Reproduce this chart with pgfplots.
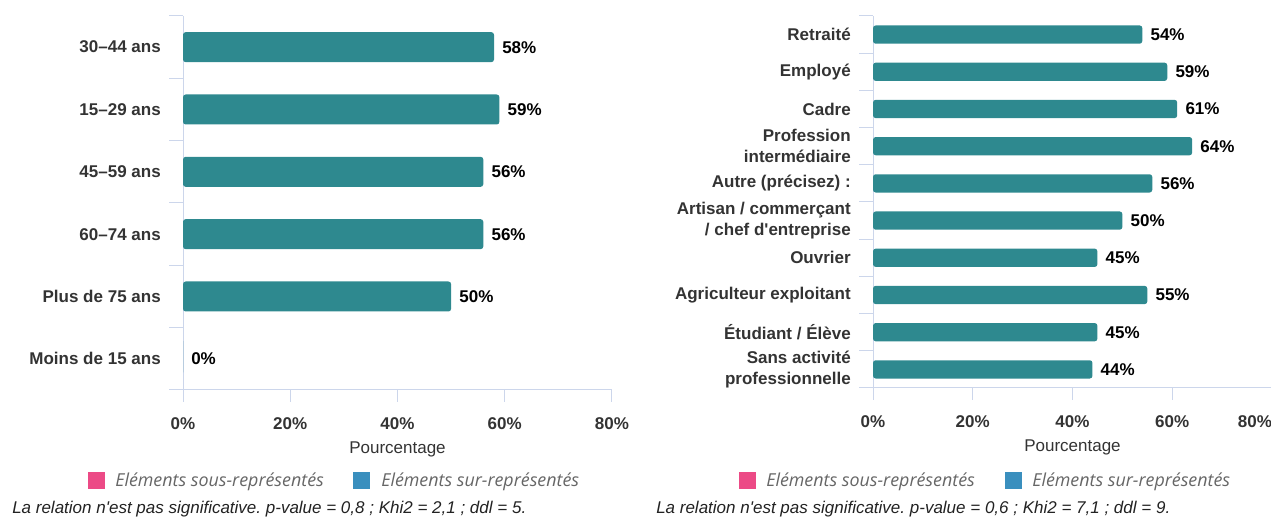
\documentclass[border=0pt]{standalone}
\usepackage{pgfplots}
\pgfplotsset{compat=1.18}
\usepackage{fontspec}
\setmainfont{Liberation Sans}[Ligatures=TeXOff]
\newfontfamily\osans{Open Sans}
\frenchspacing

\definecolor{barc}{RGB}{46,137,143}
\definecolor{axisc}{RGB}{204,214,235}
\definecolor{txt}{RGB}{51,51,51}
\definecolor{pinkc}{RGB}{236,74,134}
\definecolor{bluec}{RGB}{58,143,190}
\definecolor{legc}{RGB}{102,102,102}
\definecolor{notec}{RGB}{34,34,34}
\newcommand{\fs}{\fontsize{12.75pt}{15.75pt}\selectfont}
\newcommand{\lfs}{\osans\itshape\fontsize{13.4pt}{15pt}\selectfont}

% 1px = 0.75pt
\pgfplotsset{
  hbars/.style={
    scale only axis, xbar, xmin=0, xmax=80, enlargelimits=false, clip=false,
    axis lines*=left, axis line style={draw=axisc, line width=0.75pt},
    tick align=outside, major tick length=9pt, minor tick length=10.5pt,
    xtick={0,20,40,60,80},
    major x tick style={draw=axisc, line width=0.75pt},
    major y tick style={draw=none},
    minor y tick style={draw=axisc, line width=0.75pt},
    xticklabel style={font=\fs\bfseries, text=txt, anchor=center, inner sep=0pt, yshift=-16.5pt},
    yticklabel style={font=\fs\bfseries, text=txt, align=right, anchor=east, inner sep=0pt, xshift=-7.5pt},
    xlabel={Pourcentage},
    xlabel style={font=\fs, text=txt, at={(axis description cs:0.5,0)}, anchor=center, yshift=-44.25pt},
    point meta=x,
    /pgf/number format/assume math mode=true,
    nodes near coords={\pgfmathprintnumber[fixed,precision=0]{\pgfplotspointmeta}\%},
    nodes near coords style={font=\fs\bfseries, text=black, anchor=west, inner sep=0pt, xshift=6pt},
  }
}

\begin{document}
\begin{tikzpicture}[x=0.75pt, y=0.75pt]
\useasboundingbox (0,0) rectangle (1271,520);

% left: age groups
\begin{axis}[hbars,
  at={(137.25pt,97.5pt)}, anchor=south west,
  width=321.75pt, height=280.5pt,
  ymin=-0.5, ymax=5.5,
  ytick={0,...,5}, minor ytick={-0.5,0.5,...,5.5},
  yticklabels={Moins de 15 ans, Plus de 75 ans, 60–74 ans, 45–59 ans, 15–29 ans, 30–44 ans},
  xticklabels={0\%,20\%,40\%,60\%,80\%},
]
\addplot[fill=barc, draw=none, bar width=22.5pt, rounded corners=2pt]
  coordinates {(58,5) (59,4) (56,3) (56,2) (50,1) (0,0)};
\end{axis}

% right: occupations
\begin{axis}[hbars,
  at={(654.75pt,99pt)}, anchor=south west,
  width=299.25pt, height=279pt,
  ymin=-0.5, ymax=9.5,
  ytick={0,...,9}, minor ytick={-0.5,0.5,...,9.5},
  yticklabels={{Sans activité\\professionnelle}, {Étudiant / Élève}, {Agriculteur exploitant}, {Ouvrier},
    {Artisan / commerçant\\/ chef d'entreprise}, {Autre (précisez) :}, {Profession\\intermédiaire},
    {Cadre}, {Employé}, {Retraité}},
  xticklabels={0\%,20\%,40\%,60\%,\llap{80\%}},
]
\addplot[fill=barc, draw=none, bar width=13.7pt, rounded corners=2pt]
  coordinates {(54,9) (59,8) (61,7) (64,6) (56,5) (50,4) (45,3) (55,2) (45,1) (44,0)};
\end{axis}

% legends
\fill[pinkc] (88,30.5) rectangle (105,47.5);
\node[anchor=base west, inner sep=0pt, text=legc, font=\lfs] at (115,33) {Eléments sous-représentés};
\fill[bluec] (353,30.5) rectangle (370,47.5);
\node[anchor=base west, inner sep=0pt, text=legc, font=\lfs] at (381,33) {Eléments sur-représentés};

\fill[pinkc] (739,30.5) rectangle (756,47.5);
\node[anchor=base west, inner sep=0pt, text=legc, font=\lfs] at (766,33) {Eléments sous-représentés};
\fill[bluec] (1005,30.5) rectangle (1022,47.5);
\node[anchor=base west, inner sep=0pt, text=legc, font=\lfs] at (1032,33) {Eléments sur-représentés};

% notes
\node[anchor=base west, inner sep=0pt, text=notec, font=\fs\itshape] at (12,6) {La relation n'est pas significative. p-value = 0,8 ; Khi2 = 2,1 ; ddl = 5.};
\node[anchor=base west, inner sep=0pt, text=notec, font=\fs\itshape] at (656,6) {La relation n'est pas significative. p-value = 0,6 ; Khi2 = 7,1 ; ddl = 9.};
\end{tikzpicture}
\end{document}
